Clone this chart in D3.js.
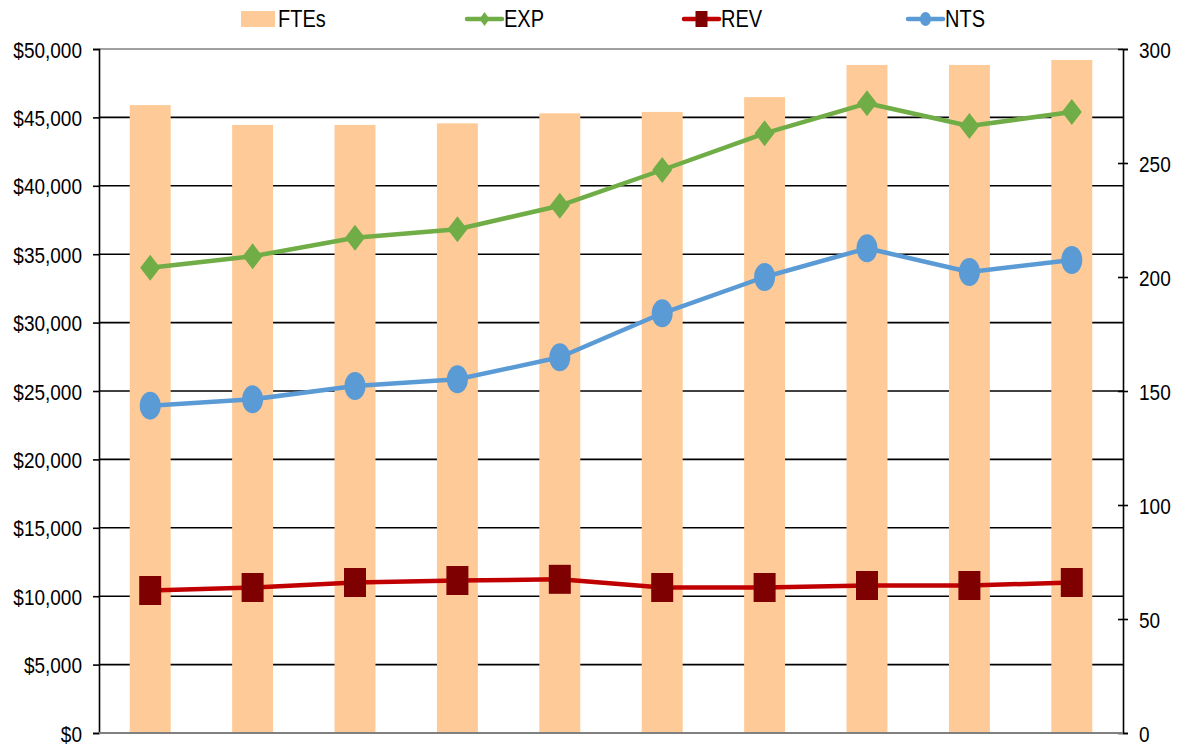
<!DOCTYPE html>
<html>
<head>
<meta charset="utf-8">
<script src="https://cdn.jsdelivr.net/npm/d3@7"></script>
<style>
  html, body { margin: 0; padding: 0; background: #fff; }
  svg { display: block; }
  text { font-family: "Liberation Sans", Arial, sans-serif; fill: #000; }
</style>
</head>
<body>
<svg id="chart" width="1179" height="745"></svg>
<script>
// ---- Data ----
const categories = ["1", "2", "3", "4", "5", "6", "7", "8", "9", "10"];
const ftes = [275.4, 266.7, 266.7, 267.4, 271.8, 272.4, 278.9, 293.0, 293.0, 295.2];
const expVals = [34013, 34846, 36206, 36820, 38545, 41155, 43838, 46031, 44371, 45395];
const revVals = [10417, 10636, 11001, 11148, 11235, 10636, 10636, 10782, 10782, 11001];
const ntsVals = [23925, 24393, 25365, 25855, 27463, 30680, 33333, 35431, 33699, 34576];
const leftTicks = [0, 5000, 10000, 15000, 20000, 25000, 30000, 35000, 40000, 45000, 50000];
const rightTicks = [0, 50, 100, 150, 200, 250, 300];
const legendLabels = ["FTEs", "EXP", "REV", "NTS"];

// ---- Layout ----
const svg = d3.select("#chart");
const L = 99, R = 1123, T = 49, B = 733;
const STRETCH = 1.15;

const x = d3.scaleBand().domain(categories).range([L, R]).paddingInner(0.6).paddingOuter(0.3);
const yL = d3.scaleLinear().domain([0, 50000]).range([B, T]);
const yR = d3.scaleLinear().domain([0, 300]).range([B, T]);
const cx = d => x(d) + x.bandwidth() / 2;

const colors = { fte: "#FECB98", exp: "#70AD47", rev: "#C00000", revMark: "#7F0000", nts: "#5B9BD5" };

// gridlines
svg.append("g").selectAll("line").data(leftTicks).join("line")
  .attr("x1", L).attr("x2", R)
  .attr("y1", d => yL(d)).attr("y2", d => yL(d))
  .attr("stroke", d => (d === 0 || d === 50000) ? "#808080" : "#000")
  .attr("stroke-width", 1.6);

// bars
svg.append("g").selectAll("rect").data(categories).join("rect")
  .attr("x", d => x(d)).attr("width", x.bandwidth())
  .attr("y", (d, i) => yR(ftes[i]))
  .attr("height", (d, i) => B - yR(ftes[i]))
  .attr("fill", colors.fte);

// left axis
const gL = svg.append("g").attr("transform", `translate(${L},0)`)
  .call(d3.axisLeft(yL).tickValues(leftTicks).tickSize(6).tickPadding(11)
    .tickFormat(d => "$" + d3.format(",")(d)));
gL.select(".domain").attr("stroke", "#000").attr("stroke-width", 1.6);
gL.selectAll(".tick line").attr("stroke", "#000").attr("stroke-width", 1.6);
gL.selectAll(".tick text").attr("font-size", 19).attr("dy", null)
  .attr("dominant-baseline", "central")
  .attr("transform", function() { return `translate(${+d3.select(this).attr("x")},0) scale(1,${STRETCH})`; })
  .attr("x", 0);

// right axis
const gR = svg.append("g").attr("transform", `translate(${R},0)`)
  .call(d3.axisRight(yR).tickValues(rightTicks).tickSize(5).tickPadding(11));
gR.select(".domain").attr("stroke", "#000").attr("stroke-width", 1.6);
gR.selectAll(".tick line").attr("x1", -5).attr("stroke", "#000").attr("stroke-width", 1.6);
gR.selectAll(".tick text").attr("font-size", 19).attr("dy", null)
  .attr("dominant-baseline", "central")
  .attr("transform", function() { return `translate(${+d3.select(this).attr("x")},0) scale(1,${STRETCH})`; })
  .attr("x", 0);
svg.selectAll(".domain").attr("fill", "none");

// bottom axis line (gray)
svg.append("line").attr("x1", L).attr("x2", R).attr("y1", yL(0)).attr("y2", yL(0))
  .attr("stroke", "#808080").attr("stroke-width", 2);

// lines
function drawLine(vals, color) {
  const line = d3.line().x((d, i) => cx(categories[i])).y(d => yL(d));
  svg.append("path").datum(vals).attr("d", line)
    .attr("fill", "none").attr("stroke", color).attr("stroke-width", 4.5)
    .attr("stroke-linejoin", "round");
}
drawLine(revVals, colors.rev);
drawLine(ntsVals, colors.nts);
drawLine(expVals, colors.exp);

// REV markers: squares (stretched)
svg.append("g").selectAll("rect").data(revVals).join("rect")
  .attr("x", (d, i) => cx(categories[i]) - 11).attr("width", 22)
  .attr("y", d => yL(d) - 14.5).attr("height", 29)
  .attr("fill", colors.revMark);

// NTS markers: ellipses
svg.append("g").selectAll("ellipse").data(ntsVals).join("ellipse")
  .attr("cx", (d, i) => cx(categories[i])).attr("cy", d => yL(d))
  .attr("rx", 10.5).attr("ry", 14)
  .attr("fill", colors.nts);

// EXP markers: diamonds
svg.append("g").selectAll("path").data(expVals).join("path")
  .attr("d", (d, i) => {
    const px = cx(categories[i]), py = yL(d), w = 10, h = 13;
    return `M${px},${py - h}L${px + w},${py}L${px},${py + h}L${px - w},${py}Z`;
  })
  .attr("fill", colors.exp);

// legend
const legY = 19;
const leg = svg.append("g");
const legX = [241, 467, 684, 908];
legendLabels.forEach((lab, i) => {
  const g = leg.append("g");
  const x0 = legX[i];
  if (i === 0) {
    g.append("rect").attr("x", x0).attr("y", legY - 8).attr("width", 34).attr("height", 16).attr("fill", colors.fte);
  } else {
    const col = i === 1 ? colors.exp : i === 2 ? colors.rev : colors.nts;
    g.append("line").attr("x1", x0).attr("x2", x0 + 35).attr("y1", legY).attr("y2", legY)
      .attr("stroke", col).attr("stroke-width", 4.5).attr("stroke-linecap", "round");
    const mx = x0 + 17.5;
    if (i === 1) {
      g.append("path").attr("d", `M${mx},${legY - 7}L${mx + 5},${legY}L${mx},${legY + 7}L${mx - 5},${legY}Z`).attr("fill", colors.exp);
    } else if (i === 2) {
      g.append("rect").attr("x", mx - 6).attr("y", legY - 8).attr("width", 12).attr("height", 16).attr("fill", colors.revMark);
    } else {
      g.append("ellipse").attr("cx", mx).attr("cy", legY).attr("rx", 5.5).attr("ry", 7).attr("fill", colors.nts);
    }
  }
  g.append("text").attr("font-size", 20).attr("dominant-baseline", "central")
    .attr("transform", `translate(${x0 + 37},${legY}) scale(1,${STRETCH})`)
    .text(lab);
});
</script>
</body>
</html>
